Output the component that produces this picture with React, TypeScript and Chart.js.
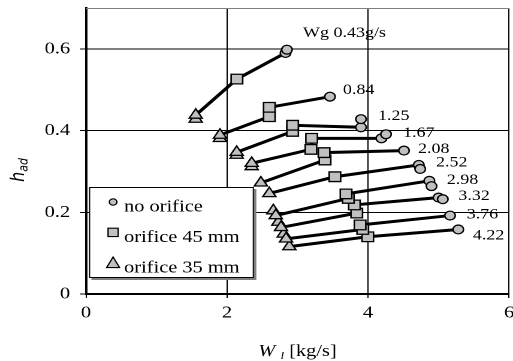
import React, { useEffect, useRef } from "react";
import { Chart, registerables } from "chart.js";

Chart.register(...registerables);

type Kind = "c" | "s" | "t"; // c = no orifice, s = orifice 45 mm, t = orifice 35 mm
type Pt = [number, number, Kind];

// ---------------- data ----------------
const seriesLabels = ["Wg 0.43g/s", "0.84", "1.25", "1.67", "2.08", "2.52", "2.98", "3.32", "3.76", "4.22"];

const wg043: Pt[] = [[1.556, 0.428, "t"], [1.556, 0.438, "t"], [2.14, 0.526, "s"], [2.83, 0.590, "c"], [2.85, 0.598, "c"]];
const wg084: Pt[] = [[1.90, 0.381, "t"], [1.90, 0.389, "t"], [2.60, 0.434, "s"], [2.60, 0.457, "s"], [3.46, 0.483, "c"]];
const wg125: Pt[] = [[2.137, 0.340, "t"], [2.137, 0.347, "t"], [2.93, 0.398, "s"], [2.93, 0.413, "s"], [3.90, 0.408, "c"], [3.90, 0.428, "c"]];
const wg167: Pt[] = [[2.35, 0.312, "t"], [2.35, 0.320, "t"], [3.19, 0.354, "s"], [3.20, 0.381, "s"], [4.19, 0.381, "c"], [4.255, 0.391, "c"]];
const wg208: Pt[] = [[2.48, 0.272, "t"], [3.39, 0.328, "s"], [3.376, 0.346, "s"], [4.51, 0.351, "c"]];
const wg252: Pt[] = [[2.60, 0.246, "t"], [3.53, 0.287, "s"], [4.72, 0.316, "c"], [4.74, 0.306, "c"]];
const wg298: Pt[] = [[2.657, 0.204, "t"], [2.691, 0.192, "t"], [3.72, 0.234, "s"], [3.688, 0.245, "s"], [4.87, 0.277, "c"], [4.90, 0.264, "c"]];
const wg332: Pt[] = [[2.728, 0.176, "t"], [2.766, 0.163, "t"], [3.84, 0.198, "s"], [3.806, 0.218, "s"], [5.00, 0.236, "c"], [5.06, 0.232, "c"]];
const wg376: Pt[] = [[2.804, 0.147, "t"], [2.837, 0.135, "t"], [3.925, 0.158, "s"], [3.887, 0.169, "s"], [5.163, 0.192, "c"]];
const wg422: Pt[] = [[2.884, 0.116, "t"], [3.996, 0.140, "s"], [5.28, 0.158, "c"]];

const seriesPoints: Pt[][] = [wg043, wg084, wg125, wg167, wg208, wg252, wg298, wg332, wg376, wg422];

const xTicks = [0, 2, 4, 6];
const yTicks = [0, 0.2, 0.4, 0.6];
const legendLabels = ["no orifice", "orifice 45 mm", "orifice 35 mm"];
const legendKinds: Kind[] = ["c", "s", "t"];

// ---------------- styles ----------------
const LOGICAL_W = 428;
const H = 361;
const SERIF = "'Liberation Serif', 'Times New Roman', serif";
const FILL = "#c0c0c0";
const labelDx = [13.4, 10.9, 14.2, 14.2, 11.7, 13.2, 12.7, 13.0, 13.9, 12.1];
const labelDy = [-16.7, -6.7, -3, -1.3, -1.6, -6.5, -6, -3, -1, 6];
const styleOf: Record<Kind, string> = { c: "circle", s: "rect", t: "triangle" };
const radiusOf: Record<Kind, number> = { c: 4.4, s: 6.8, t: 6.3 };

function drawLegendMarker(ctx: CanvasRenderingContext2D, kind: Kind, cx: number, cy: number) {
  ctx.beginPath();
  if (kind === "c") {
    ctx.arc(cx, cy, 3.2, 0, Math.PI * 2);
  } else if (kind === "s") {
    ctx.rect(cx - 4.2, cy - 4.2, 8.4, 8.4);
  } else {
    ctx.moveTo(cx, cy - 5.8);
    ctx.lineTo(cx + 5.4, cy + 4.8);
    ctx.lineTo(cx - 5.4, cy + 4.8);
    ctx.closePath();
  }
  ctx.fillStyle = FILL;
  ctx.fill();
  ctx.lineWidth = 1.1;
  ctx.strokeStyle = "#000";
  ctx.stroke();
}

const overlay = {
  id: "overlay",
  beforeDatasetsDraw(chart: any) {
    const { ctx, chartArea: a } = chart;
    ctx.save();
    // top frame line
    ctx.strokeStyle = "#808080";
    ctx.lineWidth = 1;
    ctx.beginPath();
    ctx.moveTo(a.left, a.top + 0.5);
    ctx.lineTo(a.right, a.top + 0.5);
    ctx.stroke();

    // legend box
    const bx = a.left + 2.5;
    const by = a.bottom - 107;
    const bw = 137.6;
    const bh = 91;
    ctx.fillStyle = "#808080";
    ctx.fillRect(bx + 2, by + 2, bw, bh);
    ctx.fillStyle = "#fff";
    ctx.fillRect(bx, by, bw, bh);
    ctx.strokeStyle = "#000";
    ctx.lineWidth = 1;
    ctx.strokeRect(bx + 0.5, by + 0.5, bw - 1, bh - 1);

    ctx.font = `17px ${SERIF}`;
    ctx.textBaseline = "alphabetic";
    ctx.textAlign = "left";
    legendLabels.forEach((lab, i) => {
      const base = by + 24.6 + 30.4 * i;
      drawLegendMarker(ctx, legendKinds[i], bx + 20.1, base - 9.6);
      ctx.fillStyle = "#000";
      ctx.fillText(lab, bx + 29.3, base);
    });
    ctx.restore();
  },
  afterDatasetsDraw(chart: any) {
    const { ctx, chartArea: a } = chart;
    const xs = chart.scales.x;
    const ys = chart.scales.y;
    ctx.save();
    // series labels
    ctx.font = `15px ${SERIF}`;
    ctx.fillStyle = "#000";
    ctx.textBaseline = "middle";
    ctx.textAlign = "left";
    seriesPoints.forEach((pts, i) => {
      const last = pts[pts.length - 1];
      const px = xs.getPixelForValue(last[0]) + labelDx[i];
      const py = ys.getPixelForValue(last[1]) + labelDy[i];
      ctx.fillText(seriesLabels[i], px, py);
    });

    // x axis title: W_l [kg/s]
    const fMain = `italic 17px ${SERIF}`;
    const fSub = `italic 11px ${SERIF}`;
    const fReg = `17px ${SERIF}`;
    ctx.textBaseline = "alphabetic";
    ctx.font = fMain;
    const wW = ctx.measureText("W ").width;
    ctx.font = fSub;
    const wL = ctx.measureText("l").width;
    ctx.font = fReg;
    const wR = ctx.measureText(" [kg/s]").width;
    const total = wW + wL + wR;
    let x0 = (a.left + a.right) / 2 - total / 2;
    const base = 356;
    ctx.font = fMain;
    ctx.fillText("W ", x0, base);
    x0 += wW;
    ctx.font = fSub;
    ctx.fillText("l", x0, base + 3);
    x0 += wL;
    ctx.font = fReg;
    ctx.fillText(" [kg/s]", x0, base);

    // y axis title: h_ad (rotated)
    ctx.save();
    ctx.translate(20, 170);
    ctx.rotate(-Math.PI / 2);
    const hFont = "italic 16px 'DejaVu Sans', sans-serif";
    const adFont = "italic 11px 'DejaVu Sans', sans-serif";
    ctx.font = hFont;
    const wh = ctx.measureText("h").width;
    ctx.font = adFont;
    const wad = ctx.measureText("ad").width;
    const start = -(wh + wad) / 2;
    ctx.font = hFont;
    ctx.fillText("h", start, 0);
    ctx.font = adFont;
    ctx.fillText("ad", start + wh, 3);
    ctx.restore();

    ctx.restore();
  },
};

export default function App() {
  const ref = useRef<HTMLCanvasElement>(null);

  useEffect(() => {
    const canvas = ref.current;
    if (!canvas) return;
    const datasets: any[] = [];
    seriesPoints.forEach((pts, i) => {
      const data = pts.map((p) => ({ x: p[0], y: p[1] }));
      datasets.push({
        label: seriesLabels[i] + " line",
        data,
        showLine: true,
        borderColor: "#000",
        borderWidth: 3,
        pointRadius: 0,
        tension: 0,
        fill: false,
        order: 2,
      });
      datasets.push({
        label: seriesLabels[i],
        data,
        showLine: false,
        pointStyle: pts.map((p) => styleOf[p[2]]),
        pointRadius: pts.map((p) => radiusOf[p[2]]),
        backgroundColor: FILL,
        borderColor: "#000",
        borderWidth: 1.3,
        order: 1,
      });
    });

    const tickFont = { family: SERIF, size: 17 };
    const chart = new Chart(canvas, {
      type: "scatter",
      data: { datasets },
      options: {
        responsive: false,
        devicePixelRatio: 2,
        animation: false,
        events: [],
        layout: { autoPadding: false, padding: { left: 0, right: 3.3, top: 8, bottom: 0 } },
        plugins: { legend: { display: false }, tooltip: { enabled: false } },
        scales: {
          x: {
            type: "linear",
            min: 0,
            max: 6,
            afterBuildTicks: (s: any) => {
              s.ticks = xTicks.map((v) => ({ value: v }));
            },
            afterFit: (s: any) => {
              s.height = H - 294;
              s.paddingLeft = 0;
              s.paddingRight = 0;
            },
            grid: { color: "#000", lineWidth: 1, tickLength: 4 },
            border: { color: "#000", width: 2 },
            ticks: { font: tickFont, color: "#000", padding: 5, maxRotation: 0, callback: (v: any) => String(v) },
          },
          y: {
            type: "linear",
            min: 0,
            max: 0.7,
            afterBuildTicks: (s: any) => {
              s.ticks = yTicks.map((v) => ({ value: v }));
            },
            afterFit: (s: any) => {
              s.width = 71.75;
              s.paddingTop = 0;
              s.paddingBottom = 0;
            },
            grid: { color: "#000", lineWidth: 1, tickLength: 5 },
            border: { color: "#000", width: 2 },
            ticks: { font: tickFont, color: "#000", padding: 8.3, callback: (v: any) => String(v) },
          },
        },
      } as any,
      plugins: [overlay],
    });
    return () => chart.destroy();
  }, []);

  return (
    <div style={{ position: "fixed", left: 0, top: 0, width: 513, height: H, background: "#fff" }}>
      <canvas
        ref={ref}
        width={LOGICAL_W}
        height={H}
        style={{ width: "513px", height: `${H}px`, display: "block" }}
      />
    </div>
  );
}
